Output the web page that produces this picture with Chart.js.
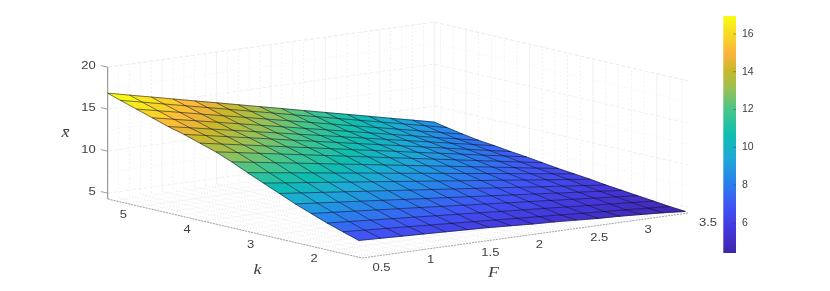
<!DOCTYPE html>
<html>
<head>
<meta charset="utf-8">
<script src="https://cdn.jsdelivr.net/npm/chart.js@4"></script>
<style>
  html, body { margin: 0; padding: 0; background: #fff; }
  canvas { position: absolute; top: 0; filter: blur(0.35px); }
  #surf { left: 0; }
  #bar { left: 690px; }
</style>
</head>
<body>
<canvas id="surf" width="830" height="291"></canvas>
<canvas id="bar" width="80" height="291"></canvas>
<script>
const Fvals = [0.5, 0.7, 0.9, 1.1, 1.3, 1.5, 1.7, 1.9, 2.1, 2.3, 2.5, 2.7, 2.9, 3.1, 3.3, 3.5];
const kvals = [1.55, 1.8, 2.05, 2.3, 2.55, 2.8, 3.05, 3.3, 3.55, 3.8, 4.05, 4.3, 4.55, 4.8, 5.05, 5.3, 5.5];
// one row per k, one column per F
const xbar = [
  [6.3, 6.2, 6.1, 6.0, 5.9, 5.8, 5.7, 5.55, 5.4, 5.3, 5.15, 5.0, 4.9, 4.75, 4.6, 4.4],
  [6.9, 6.74, 6.59, 6.43, 6.27, 6.12, 5.96, 5.8, 5.65, 5.49, 5.33, 5.18, 5.02, 4.86, 4.71, 4.55],
  [7.5, 7.32, 7.13, 6.95, 6.77, 6.58, 6.4, 6.22, 6.03, 5.85, 5.67, 5.48, 5.3, 5.12, 4.93, 4.75],
  [8.2, 7.98, 7.77, 7.55, 7.33, 7.12, 6.9, 6.68, 6.47, 6.25, 6.03, 5.82, 5.6, 5.38, 5.17, 4.95],
  [8.9, 8.65, 8.4, 8.15, 7.9, 7.65, 7.4, 7.15, 6.9, 6.65, 6.4, 6.15, 5.9, 5.65, 5.4, 5.15],
  [9.7, 9.41, 9.12, 8.83, 8.54, 8.25, 7.96, 7.67, 7.38, 7.09, 6.8, 6.51, 6.22, 5.93, 5.64, 5.35],
  [10.5, 10.17, 9.85, 9.52, 9.19, 8.87, 8.54, 8.21, 7.89, 7.56, 7.23, 6.91, 6.58, 6.25, 5.93, 5.6],
  [11.3, 10.93, 10.57, 10.2, 9.83, 9.47, 9.1, 8.73, 8.37, 8.0, 7.63, 7.27, 6.9, 6.53, 6.17, 5.8],
  [12.15, 11.74, 11.33, 10.92, 10.51, 10.1, 9.69, 9.28, 8.87, 8.46, 8.05, 7.64, 7.23, 6.82, 6.41, 6.0],
  [12.9, 12.46, 12.01, 11.57, 11.13, 10.68, 10.24, 9.8, 9.35, 8.91, 8.47, 8.02, 7.58, 7.14, 6.69, 6.25],
  [13.5, 13.03, 12.57, 12.1, 11.63, 11.17, 10.7, 10.23, 9.77, 9.3, 8.83, 8.37, 7.9, 7.43, 6.97, 6.5],
  [14.1, 13.61, 13.11, 12.62, 12.13, 11.63, 11.14, 10.65, 10.15, 9.66, 9.17, 8.67, 8.18, 7.69, 7.19, 6.7],
  [14.6, 14.09, 13.58, 13.07, 12.56, 12.05, 11.54, 11.03, 10.52, 10.01, 9.5, 8.99, 8.48, 7.97, 7.46, 6.95],
  [15.2, 14.66, 14.13, 13.59, 13.05, 12.52, 11.98, 11.44, 10.91, 10.37, 9.83, 9.3, 8.76, 8.22, 7.69, 7.15],
  [15.8, 15.24, 14.69, 14.13, 13.57, 13.02, 12.46, 11.9, 11.35, 10.79, 10.23, 9.68, 9.12, 8.56, 8.01, 7.45],
  [16.4, 15.83, 15.25, 14.68, 14.11, 13.53, 12.96, 12.39, 11.81, 11.24, 10.67, 10.09, 9.52, 8.95, 8.37, 7.8],
  [16.9, 16.31, 15.73, 15.14, 14.55, 13.97, 13.38, 12.79, 12.21, 11.62, 11.03, 10.45, 9.86, 9.27, 8.69, 8.1]
];
const Fticks = [0.5, 1, 1.5, 2, 2.5, 3, 3.5];
const kticks = [2, 3, 4, 5];
const zticks = [5, 10, 15, 20];
const Fminor = [0.6, 0.7, 0.8, 0.9, 1.1, 1.2, 1.3, 1.4, 1.6, 1.7, 1.8, 1.9, 2.1, 2.2, 2.3, 2.4, 2.6, 2.7, 2.8, 2.9, 3.1, 3.2, 3.3, 3.4];
const kminor = [1.6, 1.8, 2.2, 2.4, 2.6, 2.8, 3.2, 3.4, 3.6, 3.8, 4.2, 4.4, 4.6, 4.8, 5.2, 5.4];
const zminor = [7.5, 12.5, 17.5];
const colorbarTicks = [6, 8, 10, 12, 14, 16];

const Flim = [0.5, 3.5], klim = [1.5, 5.5], zlim = [4.3, 20];
const clim = [4.4, 16.95];

// parula-like stops
const cmapPos = [0, 0.1, 0.2, 0.3, 0.4, 0.5, 0.6, 0.7, 0.77, 0.84, 0.92, 1];
const cmapRgb = [
  [62, 38, 168], [68, 55, 220], [64, 85, 245], [40, 130, 235],
  [30, 168, 216], [15, 190, 175], [69, 197, 140], [160, 192, 80],
  [200, 184, 44], [252, 180, 60], [248, 216, 36], [249, 251, 21]
];

function colorAt(t) {
  t = Math.min(1, Math.max(0, t));
  let i = 0;
  while (i < cmapPos.length - 2 && t > cmapPos[i + 1]) i++;
  const f = (t - cmapPos[i]) / (cmapPos[i + 1] - cmapPos[i]);
  const c = cmapRgb[i].map((v, n) => Math.round(v + (cmapRgb[i + 1][n] - v) * f));
  return 'rgb(' + c.join(',') + ')';
}

// orthographic view of the MATLAB axes box
function view(F, k, z) {
  const u = (F - Flim[0]) / (Flim[1] - Flim[0]);
  const v = (klim[1] - k) / (klim[1] - klim[0]);
  return {
    x: 107.7 + u * 326.5 + v * 254.3,
    y: 199 - u * 45 + v * 59 - (z - zlim[0]) * 8.4
  };
}

function lineSet(points, color, width, dash) {
  return {
    data: points.map(p => view(p[0], p[1], p[2])),
    showLine: true, pointRadius: 0, fill: false,
    borderColor: color, borderWidth: width, borderDash: dash || []
  };
}

const datasets = [];

// mesh lines on top
Fvals.forEach((F, j) => {
  datasets.push(lineSet(kvals.map((k, i) => [F, k, xbar[i][j]]), 'rgba(10,10,30,0.72)', 0.75));
});
kvals.forEach((k, i) => {
  datasets.push(lineSet(Fvals.map((F, j) => [F, k, xbar[i][j]]), 'rgba(10,10,30,0.72)', 0.75));
});

// surface cells, coloured flat from the corner at low F and high k
for (let i = 0; i < kvals.length - 1; i++) {
  for (let j = 0; j < Fvals.length - 1; j++) {
    const col = colorAt((xbar[i + 1][j] - clim[0]) / (clim[1] - clim[0]));
    datasets.push({
      data: [
        view(Fvals[j], kvals[i], xbar[i][j]),
        view(Fvals[j + 1], kvals[i], xbar[i][j + 1]),
        view(Fvals[j + 1], kvals[i + 1], xbar[i + 1][j + 1]),
        view(Fvals[j], kvals[i + 1], xbar[i + 1][j]),
        view(Fvals[j], kvals[i], xbar[i][j])
      ],
      showLine: true, pointRadius: 0, fill: 'shape',
      backgroundColor: col, borderColor: col, borderWidth: 0.6
    });
  }
}

// axis rulers
datasets.push(lineSet([[Flim[0], klim[1], zlim[0]], [Flim[0], klim[1], zlim[1]]], '#8a8a8a', 1));
datasets.push(lineSet([[Flim[0], klim[1], zlim[0]], [Flim[0], klim[0], zlim[0]]], '#8c8c8c', 0.8, [2, 1]));
datasets.push(lineSet([[Flim[0], klim[0], zlim[0]], [Flim[1], klim[0], zlim[0]]], '#8c8c8c', 0.8, [2, 1]));

// walls and floor
const major = '#ececec', minor = '#ededed', floorDot = '#d6d6d6';
Fticks.forEach(F => {
  datasets.push(lineSet([[F, klim[1], zlim[0]], [F, klim[1], zlim[1]]], major, 0.8));
  datasets.push(lineSet([[F, klim[1], zlim[0]], [F, klim[0], zlim[0]]], major, 0.6));
});
kticks.forEach(k => {
  datasets.push(lineSet([[Flim[1], k, zlim[0]], [Flim[1], k, zlim[1]]], major, 0.8));
  datasets.push(lineSet([[Flim[0], k, zlim[0]], [Flim[1], k, zlim[0]]], major, 0.6));
});
zticks.concat([zlim[1]]).forEach(z => {
  datasets.push(lineSet([[Flim[0], klim[1], z], [Flim[1], klim[1], z]], major, 0.8, [4, 2]));
  datasets.push(lineSet([[Flim[1], klim[1], z], [Flim[1], klim[0], z]], major, 0.8, [4, 2]));
});
Fminor.forEach(F => {
  datasets.push(lineSet([[F, klim[1], zlim[0]], [F, klim[1], zlim[1]]], minor, 0.7, [2, 2]));
  datasets.push(lineSet([[F, klim[1], zlim[0]], [F, klim[0], zlim[0]]], floorDot, 0.5, [1, 2]));
});
kminor.forEach(k => {
  datasets.push(lineSet([[Flim[1], k, zlim[0]], [Flim[1], k, zlim[1]]], minor, 0.7, [2, 2]));
  datasets.push(lineSet([[Flim[0], k, zlim[0]], [Flim[1], k, zlim[0]]], floorDot, 0.5, [1, 2]));
});
zminor.forEach(z => {
  datasets.push(lineSet([[Flim[0], klim[1], z], [Flim[1], klim[1], z]], minor, 0.7, [1, 2]));
  datasets.push(lineSet([[Flim[1], klim[1], z], [Flim[1], klim[0], z]], minor, 0.7, [1, 2]));
});

const labelColor = '#404040';

function stretched(ctx, text, x, y, font, sx, align) {
  ctx.save();
  ctx.translate(x, y);
  ctx.scale(sx, 1);
  ctx.font = font;
  ctx.textAlign = align;
  ctx.textBaseline = 'middle';
  ctx.fillText(text, 0, 0);
  ctx.restore();
}

const axisText = {
  id: 'axisText',
  afterDraw(chart) {
    const ctx = chart.ctx, sx = chart.scales.x, sy = chart.scales.y;
    const at = (F, k, z) => {
      const p = view(F, k, z);
      return [sx.getPixelForValue(p.x), sy.getPixelForValue(p.y)];
    };
    const tick = '10px "Liberation Sans"';
    ctx.fillStyle = labelColor;
    ctx.strokeStyle = '#777';
    ctx.lineWidth = 0.7;
    zticks.forEach(z => {
      const p = at(Flim[0], klim[1], z);
      ctx.beginPath(); ctx.moveTo(p[0], p[1]); ctx.lineTo(p[0] - 7, p[1] - 1.5); ctx.stroke();
      stretched(ctx, String(z), p[0] - 12, p[1] - 1, tick, 1.3, 'right');
    });
    kticks.forEach(k => {
      const p = at(Flim[0], k, zlim[0]);
      stretched(ctx, String(k), p[0] - 16, p[1] + 9, tick, 1.3, 'center');
    });
    Fticks.forEach(F => {
      const p = at(F, klim[0], zlim[0]);
      stretched(ctx, String(F), p[0] + 10.5, p[1] + 10, tick, 1.3, 'left');
    });
    const math = 'italic 15px "Liberation Serif"';
    stretched(ctx, 'k', sx.getPixelForValue(257.5), sy.getPixelForValue(270.5), math, 1.2, 'center');
    stretched(ctx, 'F', sx.getPixelForValue(493.5), sy.getPixelForValue(273), math, 1.2, 'center');
    stretched(ctx, 'x\u0304', sx.getPixelForValue(65.5), sy.getPixelForValue(133), math, 1.2, 'center');
  }
};

new Chart(document.getElementById('surf').getContext('2d'), {
  type: 'scatter',
  data: { datasets },
  plugins: [axisText],
  options: {
    responsive: false,
    animation: false,
    layout: { padding: 0 },
    plugins: { legend: { display: false }, tooltip: { enabled: false } },
    scales: {
      x: { type: 'linear', min: 0, max: 830, display: false },
      y: { type: 'linear', min: 0, max: 291, reverse: true, display: false }
    }
  }
});

const barTicks = {
  id: 'barTicks',
  afterDraw(chart) {
    const ctx = chart.ctx, a = chart.chartArea, sy = chart.scales.y;
    ctx.strokeStyle = 'rgba(60,60,60,0.6)';
    ctx.lineWidth = 0.7;
    colorbarTicks.forEach(v => {
      const py = sy.getPixelForValue(v);
      ctx.beginPath(); ctx.moveTo(a.right, py); ctx.lineTo(a.right - 3, py); ctx.stroke();
    });
  }
};

new Chart(document.getElementById('bar').getContext('2d'), {
  type: 'bar',
  data: {
    labels: ['xbar'],
    datasets: [{
      data: [clim],
      barPercentage: 1,
      categoryPercentage: 1,
      backgroundColor(c) {
        const a = c.chart.chartArea;
        if (!a) return '#888';
        const g = c.chart.ctx.createLinearGradient(0, a.bottom, 0, a.top);
        cmapPos.forEach(p => g.addColorStop(p, colorAt(p)));
        return g;
      }
    }]
  },
  plugins: [barTicks],
  options: {
    responsive: false,
    animation: false,
    layout: { padding: { left: 33.3, top: 16, bottom: 38, right: 0 } },
    plugins: { legend: { display: false }, tooltip: { enabled: false } },
    scales: {
      x: { display: false },
      y: {
        position: 'right',
        min: clim[0], max: clim[1],
        afterFit(s) { s.width = 34; },
        afterBuildTicks(s) { s.ticks = colorbarTicks.map(v => ({ value: v })); },
        border: { display: false },
        grid: { drawOnChartArea: false, drawTicks: false },
        ticks: {
          padding: 6, autoSkip: false,
          color: labelColor,
          font: { family: '"Liberation Sans"', size: 10.5 }
        }
      }
    }
  }
});
</script>
</body>
</html>
